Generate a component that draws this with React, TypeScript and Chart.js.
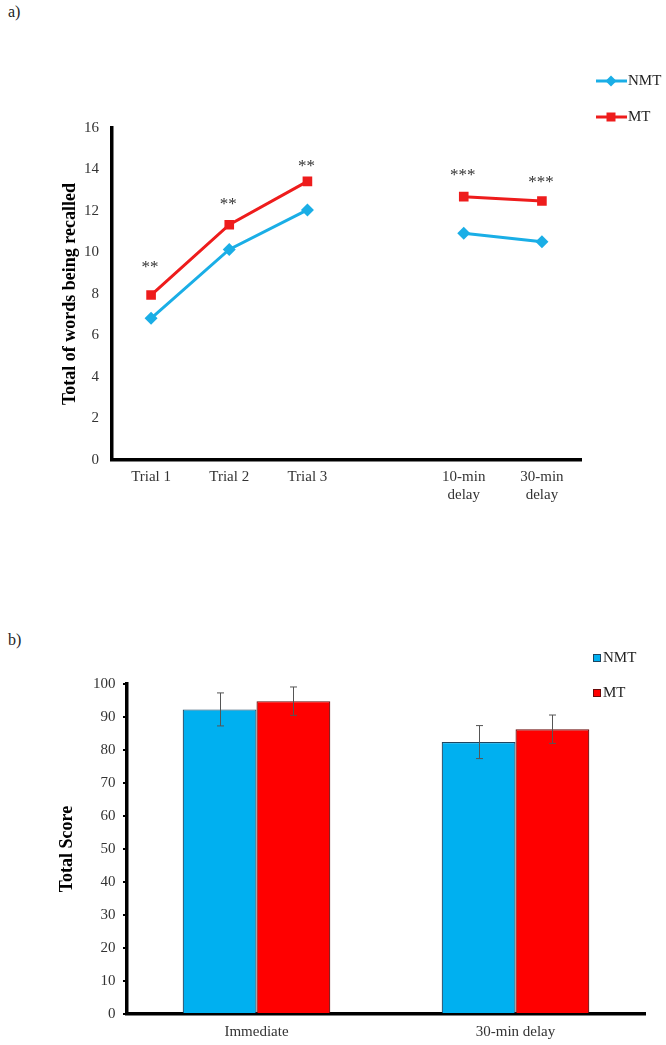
import React, { useEffect, useRef } from 'react';
import { Chart, registerables } from 'chart.js';

Chart.register(...registerables);

const FONT = "'Liberation Serif', 'Times New Roman', Times, serif";

// ---------- Panel a: words recalled ----------
const trialLabels: (string | string[])[] = ['Trial 1', 'Trial 2', 'Trial 3', '', ['10-min', 'delay'], ['30-min', 'delay']];
const nmtRecall: (number | null)[] = [6.83, 10.15, 12.05, null, 10.93, 10.52];
const mtRecall: (number | null)[] = [7.95, 11.34, 13.43, null, 12.69, 12.48];
const sigMarks = ['**', '**', '**', '', '***', '***'];
const sigLevels: (number | null)[] = [9.45, 12.5, 14.3, null, 13.9, 13.55];
const recallMin = 0;
const recallMax = 16;
const recallStep = 2;

// ---------- Panel b: total score ----------
const scoreLabels = ['Immediate', '30-min delay'];
const nmtScore = [92.3, 82.4];
const mtScore = [94.8, 86.3];
const nmtScoreErr = [5.0, 5.0];
const mtScoreErr = [4.3, 4.3];
const scoreMin = 0;
const scoreMax = 100;
const scoreStep = 10;

const seriesNames = ['NMT', 'MT'];
const lineColors = ['#1AAEE6', '#EE1C1C'];
const barColors = ['#00B0F0', '#FF0000'];
const barBorders = ['#1E4560', '#6A0A0A'];

const sigPlugin = {
  id: 'sigPlugin',
  afterDatasetsDraw(chart: any) {
    const { ctx } = chart;
    const xs = chart.scales.x;
    const ys = chart.scales.y;
    ctx.save();
    ctx.font = `17px ${FONT}`;
    ctx.fillStyle = '#333';
    ctx.textAlign = 'center';
    ctx.textBaseline = 'alphabetic';
    sigMarks.forEach((m, i) => {
      const lv = sigLevels[i];
      if (!m || lv == null) return;
      ctx.fillText(m, xs.getPixelForValue(i) - 1, ys.getPixelForValue(lv) + 8);
    });
    ctx.restore();
  },
};

const lineLegendPlugin = {
  id: 'lineLegendPlugin',
  afterDraw(chart: any) {
    const { ctx } = chart;
    const rows = [81, 117];
    ctx.save();
    seriesNames.forEach((name, i) => {
      const y = rows[i];
      ctx.strokeStyle = lineColors[i];
      ctx.lineWidth = 3;
      ctx.beginPath();
      ctx.moveTo(596, y);
      ctx.lineTo(627, y);
      ctx.stroke();
      ctx.fillStyle = lineColors[i];
      ctx.beginPath();
      if (i === 0) {
        const r = 5.5;
        ctx.moveTo(611 - r, y);
        ctx.lineTo(611, y - r);
        ctx.lineTo(611 + r, y);
        ctx.lineTo(611, y + r);
        ctx.closePath();
      } else {
        ctx.rect(611 - 4.5, y - 4.5, 9, 9);
      }
      ctx.fill();
      ctx.fillStyle = '#222';
      ctx.font = `15px ${FONT}`;
      ctx.textAlign = 'left';
      ctx.textBaseline = 'middle';
      ctx.fillText(name, 628, y);
    });
    ctx.restore();
  },
};

const errorBarPlugin = {
  id: 'errorBarPlugin',
  afterDatasetsDraw(chart: any) {
    const { ctx } = chart;
    const ys = chart.scales.y;
    ctx.save();
    ctx.strokeStyle = '#555';
    ctx.lineWidth = 1;
    chart.data.datasets.forEach((ds: any, d: number) => {
      const meta = chart.getDatasetMeta(d);
      meta.data.forEach((bar: any, i: number) => {
        const v = ds.data[i];
        const e = ds.errors[i];
        const x = Math.round(bar.x) + 0.5;
        const yTop = ys.getPixelForValue(v + e);
        const yBot = ys.getPixelForValue(v - e);
        ctx.beginPath();
        ctx.moveTo(x, yTop);
        ctx.lineTo(x, yBot);
        ctx.moveTo(x - 3.5, yTop);
        ctx.lineTo(x + 3.5, yTop);
        ctx.moveTo(x - 3.5, yBot);
        ctx.lineTo(x + 3.5, yBot);
        ctx.stroke();
      });
    });
    ctx.restore();
  },
};

const barLegendPlugin = {
  id: 'barLegendPlugin',
  afterDraw(chart: any) {
    const { ctx } = chart;
    const rows = [138, 173];
    ctx.save();
    seriesNames.forEach((name, i) => {
      const y = rows[i];
      ctx.fillStyle = barColors[i];
      ctx.fillRect(593, y - 4, 8, 8);
      ctx.strokeStyle = barBorders[i];
      ctx.lineWidth = 1;
      ctx.strokeRect(593.5, y - 3.5, 7, 7);
      ctx.fillStyle = '#222';
      ctx.font = `15px ${FONT}`;
      ctx.textAlign = 'left';
      ctx.textBaseline = 'middle';
      ctx.fillText(name, 603, y);
    });
    ctx.restore();
  },
};

function LineChart() {
  const ref = useRef<HTMLCanvasElement | null>(null);
  useEffect(() => {
    if (!ref.current) return;
    const chart = new Chart(ref.current, {
      type: 'line',
      data: {
        labels: trialLabels as any,
        datasets: [
          {
            label: seriesNames[0],
            data: nmtRecall,
            borderColor: lineColors[0],
            backgroundColor: lineColors[0],
            borderWidth: 3,
            pointStyle: 'rectRot',
            pointRadius: 6.5,
            pointBorderWidth: 0,
            spanGaps: false,
            tension: 0,
          },
          {
            label: seriesNames[1],
            data: mtRecall,
            borderColor: lineColors[1],
            backgroundColor: lineColors[1],
            borderWidth: 3,
            pointStyle: 'rect',
            pointRadius: 6.8,
            pointBorderWidth: 0,
            spanGaps: false,
            tension: 0,
          },
        ],
      },
      options: {
        responsive: false,
        animation: false,
        devicePixelRatio: 1,
        layout: { padding: { top: 128, right: 85, left: 0, bottom: 0 } },
        plugins: { legend: { display: false }, tooltip: { enabled: false } },
        scales: {
          x: {
            offset: true,
            grid: { display: false, drawTicks: false, offset: true },
            border: { display: true, color: '#000', width: 3.5 },
            ticks: {
              padding: 8.5,
              color: '#333',
              autoSkip: false,
              maxRotation: 0,
              font: { family: FONT, size: 15 },
            },
            afterFit: (s: any) => {
              s.height = 60;
            },
          },
          y: {
            min: recallMin,
            max: recallMax,
            grid: { display: false, drawTicks: false },
            border: { display: true, color: '#000', width: 3.5 },
            ticks: {
              stepSize: recallStep,
              padding: 13,
              color: '#333',
              font: { family: FONT, size: 15 },
            },
            title: {
              display: true,
              text: 'Total of words being recalled',
              color: '#000',
              font: { family: FONT, size: 18, weight: 'bold' },
              padding: { top: 60, bottom: 0 },
            },
            afterFit: (s: any) => {
              s.width = 112;
            },
          },
        },
      },
      plugins: [sigPlugin, lineLegendPlugin],
    } as any);
    return () => chart.destroy();
  }, []);
  return <canvas ref={ref} width={666} height={520} style={{ position: 'absolute', left: 0, top: 0, width: 666, height: 520 }} />;
}

function BarChart() {
  const ref = useRef<HTMLCanvasElement | null>(null);
  useEffect(() => {
    if (!ref.current) return;
    const chart = new Chart(ref.current, {
      type: 'bar',
      data: {
        labels: scoreLabels,
        datasets: [
          {
            label: seriesNames[0],
            data: nmtScore,
            errors: nmtScoreErr,
            backgroundColor: barColors[0],
            borderColor: barBorders[0],
            borderWidth: 1.2,
            categoryPercentage: 0.57,
            barPercentage: 1,
          },
          {
            label: seriesNames[1],
            data: mtScore,
            errors: mtScoreErr,
            backgroundColor: barColors[1],
            borderColor: barBorders[1],
            borderWidth: 1.2,
            categoryPercentage: 0.57,
            barPercentage: 1,
          },
        ],
      },
      options: {
        responsive: false,
        animation: false,
        devicePixelRatio: 1,
        layout: { padding: { top: 164, right: 21, left: 0, bottom: 0 } },
        plugins: { legend: { display: false }, tooltip: { enabled: false } },
        scales: {
          x: {
            grid: { display: false, drawTicks: false },
            border: { display: true, color: '#000', width: 3.5 },
            ticks: {
              padding: 9.4,
              color: '#333',
              font: { family: FONT, size: 15 },
            },
            afterFit: (s: any) => {
              s.height = 31;
            },
          },
          y: {
            min: scoreMin,
            max: scoreMax,
            grid: {
              display: true,
              drawOnChartArea: false,
              drawTicks: true,
              tickLength: 4,
              color: '#000',
              lineWidth: 2,
            },
            border: { display: true, color: '#000', width: 3.5 },
            ticks: {
              stepSize: scoreStep,
              padding: 7.5,
              color: '#333',
              font: { family: FONT, size: 15 },
            },
            title: {
              display: true,
              text: 'Total Score',
              color: '#000',
              font: { family: FONT, size: 18, weight: 'bold' },
              padding: { top: 57, bottom: 0 },
            },
            afterFit: (s: any) => {
              s.width = 127;
            },
          },
        },
      },
      plugins: [errorBarPlugin, barLegendPlugin],
    } as any);
    return () => chart.destroy();
  }, []);
  return <canvas ref={ref} width={666} height={525} style={{ position: 'absolute', left: 0, top: 520, width: 666, height: 525 }} />;
}

export default function App() {
  useEffect(() => {
    document.body.style.margin = '0';
  }, []);
  const labelStyle: React.CSSProperties = {
    position: 'absolute',
    left: 8,
    fontFamily: FONT,
    fontSize: 16,
    color: '#222',
    lineHeight: '18px',
  };
  return (
    <div style={{ position: 'relative', width: 666, height: 1045, background: '#fff', overflow: 'hidden' }}>
      <div style={{ ...labelStyle, top: 3 }}>a)</div>
      <LineChart />
      <div style={{ ...labelStyle, top: 631 }}>b)</div>
      <BarChart />
    </div>
  );
}
